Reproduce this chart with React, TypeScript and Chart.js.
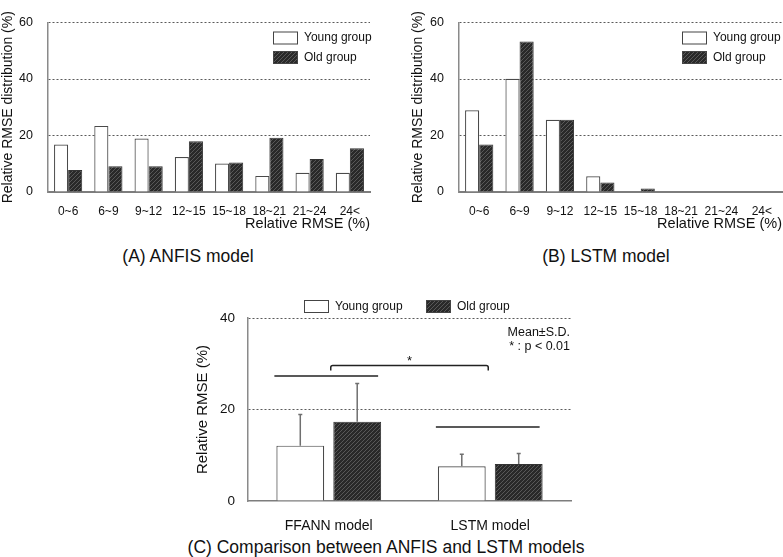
import { useEffect, useRef } from "react"
import { Chart, registerables } from "chart.js"
import type { ChartConfiguration, Plugin } from "chart.js"

Chart.register(...registerables)

// ---- data ----
const bins = ["0~6", "6~9", "9~12", "12~15", "15~18", "18~21", "21~24", "24<"]
const anfisYoung = [16.8, 23.4, 18.9, 12.4, 10.1, 5.7, 6.8, 6.8]
const anfisOld = [7.8, 9.1, 9.1, 18.0, 10.4, 19.2, 11.7, 15.5]
const lstmYoung = [28.9, 40.1, 25.6, 5.6, 0, 0, 0, 0]
const lstmOld = [16.8, 53.3, 25.6, 3.4, 1.2, 0, 0, 0]
const distTicks = [0, 20, 40, 60]

const models = ["FFANN model", "LSTM model"]
const meanYoung = [12.1, 7.6]
const meanOld = [17.3, 8.1]
const sdYoung = [6.8, 2.6]
const sdOld = [8.4, 2.3]
const rmseTicks = [0, 20, 40]
const pairLineLevels = [27.3, 16.2]
const bracketLevel = 29.6
const bracketFoot = 28.5
const starLevel = 31.1

const groupLabels = ["Young group", "Old group"]
const notes = ["Mean\u00b1S.D.", "* : p < 0.01"]

const FONT = "'Liberation Sans', Arial, sans-serif"
const INK = "#111"
Chart.defaults.font.family = FONT
Chart.defaults.color = INK

function makeHatch(): CanvasPattern | string {
  const c = document.createElement("canvas")
  c.width = 4
  c.height = 4
  const g = c.getContext("2d")
  if (!g) return "#333"
  g.fillStyle = "#292929"
  g.fillRect(0, 0, 4, 4)
  g.strokeStyle = "#585858"
  g.lineWidth = 1
  g.beginPath()
  g.moveTo(0, 4)
  g.lineTo(4, 0)
  g.moveTo(-1, 1)
  g.lineTo(1, -1)
  g.moveTo(3, 5)
  g.lineTo(5, 3)
  g.stroke()
  return g.createPattern(c, "repeat") ?? "#333"
}

// legend drawn with boxes, placed relative to the chart area
const boxLegend: Plugin = {
  id: "boxLegend",
  afterDraw(chart, _args, opts: any) {
    const { ctx, chartArea } = chart
    const baseX = opts.anchor === "right" ? chartArea.right + opts.x : chartArea.left + opts.x
    ctx.save()
    ctx.font = `12px ${FONT}`
    ctx.textBaseline = "middle"
    ctx.textAlign = "left"
    chart.data.datasets.forEach((ds: any, i) => {
      const bx = baseX + i * opts.dx
      const by = chartArea.top + opts.y + i * opts.dy
      ctx.fillStyle = ds.backgroundColor
      ctx.fillRect(bx, by, 25, 13)
      ctx.strokeStyle = "#444"
      ctx.lineWidth = 1
      ctx.strokeRect(bx + 0.5, by + 0.5, 24, 12)
      ctx.fillStyle = INK
      ctx.fillText(ds.label, bx + 31, by + 6.5)
    })
    ctx.restore()
  },
}

// upward error bars from dataset.errors
const errorBars: Plugin = {
  id: "errorBars",
  afterDatasetsDraw(chart) {
    const { ctx } = chart
    const y = chart.scales.y
    ctx.save()
    ctx.strokeStyle = "#6f6f6f"
    ctx.lineWidth = 1.5
    chart.data.datasets.forEach((ds: any, i) => {
      chart.getDatasetMeta(i).data.forEach((el: any, j) => {
        const top = y.getPixelForValue(ds.data[j] + ds.errors[j])
        ctx.beginPath()
        ctx.moveTo(el.x, el.y)
        ctx.lineTo(el.x, top)
        ctx.moveTo(el.x - 2, top)
        ctx.lineTo(el.x + 2, top)
        ctx.stroke()
      })
    })
    ctx.restore()
  },
}

// pair lines, significance bracket and notes
const significance: Plugin = {
  id: "significance",
  afterDraw(chart) {
    const { ctx, chartArea } = chart
    const x = chart.scales.x
    const y = chart.scales.y
    const young = chart.getDatasetMeta(0).data as any[]
    const old = chart.getDatasetMeta(1).data as any[]
    ctx.save()
    ctx.strokeStyle = "#222"
    ctx.lineWidth = 1.5
    pairLineLevels.forEach((lv, j) => {
      const py = y.getPixelForValue(lv)
      ctx.beginPath()
      ctx.moveTo(young[j].x - young[j].width / 2 - 2, py)
      ctx.lineTo(old[j].x + old[j].width / 2 - 3, py)
      ctx.stroke()
    })
    const x1 = x.getPixelForValue(0) + 2
    const x2 = x.getPixelForValue(1) - 2
    const by = y.getPixelForValue(bracketLevel)
    const fy = y.getPixelForValue(bracketFoot)
    ctx.beginPath()
    ctx.moveTo(x1, fy)
    ctx.lineTo(x1, by + 2)
    ctx.quadraticCurveTo(x1, by, x1 + 2, by)
    ctx.lineTo(x2 - 2, by)
    ctx.quadraticCurveTo(x2, by, x2, by + 2)
    ctx.lineTo(x2, fy)
    ctx.stroke()
    ctx.fillStyle = INK
    ctx.textAlign = "center"
    ctx.textBaseline = "middle"
    ctx.font = `13px ${FONT}`
    ctx.fillText("*", (x1 + x2) / 2, y.getPixelForValue(starLevel) + 3)
    ctx.textAlign = "right"
    ctx.font = `12.5px ${FONT}`
    notes.forEach((t, k) => ctx.fillText(t, chartArea.right - 1, chartArea.top + 15 + k * 14))
    ctx.restore()
  },
}

const gridColor = (c: any) => (c.tick && c.tick.value === 0 ? "transparent" : "#5a5a5a")

function histogramConfig(
  young: number[],
  old: number[],
  padLeft: number,
  padRight: number,
  yWidth: number,
  legendX: number
): ChartConfiguration {
  const hatch = makeHatch()
  return {
    type: "bar",
    data: {
      labels: bins,
      datasets: [
        { label: groupLabels[0], data: young, backgroundColor: "#ffffff", borderColor: "#4a4a4a", borderWidth: 1.2 },
        { label: groupLabels[1], data: old, backgroundColor: hatch as any, borderColor: "#333", borderWidth: 1 },
      ],
    },
    options: {
      responsive: true,
      maintainAspectRatio: false,
      animation: false,
      layout: { padding: { left: padLeft, right: padRight, top: 9, bottom: 0 } },
      datasets: { bar: { categoryPercentage: 0.7, barPercentage: 1 } },
      plugins: {
        legend: { display: false },
        tooltip: { enabled: false },
        boxLegend: { anchor: "right", x: legendX, y: 9, dx: 0, dy: 19.5 },
      } as any,
      scales: {
        x: {
          grid: { display: false },
          border: { color: "#7d7d7d", width: 2 },
          ticks: { font: { size: 12 }, padding: 4, color: INK },
          title: { display: true, text: "Relative RMSE (%)", align: "end", font: { size: 14.5 }, padding: { top: 0, bottom: 7 } },
          afterFit: (s) => {
            s.height = 48
          },
        },
        y: {
          min: 0,
          max: 60,
          afterBuildTicks: (s) => {
            s.ticks = distTicks.map((v) => ({ value: v }))
          },
          grid: { color: gridColor, lineWidth: 1, drawTicks: false },
          border: { color: "#8a8a8a", width: 1.5, dash: [2, 2] },
          ticks: { font: { size: 12.5 }, padding: 15, color: INK },
          title: { display: true, text: "Relative RMSE distribution (%)", font: { size: 14 }, padding: { top: 0, bottom: 0 } },
          afterFit: (s) => {
            s.width = yWidth
          },
        },
      },
    },
    plugins: [boxLegend],
  }
}

const buildAnfis = () => histogramConfig(anfisYoung, anfisOld, 0, 20, 48, -97)
const buildLstm = () => histogramConfig(lstmYoung, lstmOld, 20, 1, 49, -100)

const buildCompare = (): ChartConfiguration => {
  const hatch = makeHatch()
  return {
    type: "bar",
    data: {
      labels: models,
      datasets: [
        { label: groupLabels[0], data: meanYoung, errors: sdYoung, backgroundColor: "#ffffff", borderColor: "#4a4a4a", borderWidth: 1.2 } as any,
        { label: groupLabels[1], data: meanOld, errors: sdOld, backgroundColor: hatch, borderColor: "#333", borderWidth: 1 } as any,
      ],
    },
    options: {
      responsive: true,
      maintainAspectRatio: false,
      animation: false,
      layout: { padding: { left: 0, right: 19, top: 28, bottom: 0 } },
      datasets: { bar: { categoryPercentage: 0.705, barPercentage: 0.84 } },
      plugins: {
        legend: { display: false },
        tooltip: { enabled: false },
        boxLegend: { anchor: "left", x: 56, y: -18, dx: 122, dy: 0 },
      } as any,
      scales: {
        x: {
          grid: { display: false },
          border: { color: "#7d7d7d", width: 1.5 },
          ticks: { font: { size: 14 }, padding: 9, color: INK },
          afterFit: (s) => {
            s.height = 29
          },
        },
        y: {
          min: 0,
          max: 40,
          afterBuildTicks: (s) => {
            s.ticks = rmseTicks.map((v) => ({ value: v }))
          },
          grid: { color: gridColor, lineWidth: 1, drawTicks: false },
          border: { color: "#8a8a8a", width: 1.5, dash: [2, 2] },
          ticks: { font: { size: 13.5 }, padding: 13, color: INK },
          title: { display: true, text: "Relative RMSE (%)", font: { size: 15 }, padding: { top: 4, bottom: 0 } },
          afterFit: (s) => {
            s.width = 58
          },
        },
      },
    },
    plugins: [boxLegend, errorBars, significance],
  }
}

function ChartBox({ left, top, width, height, build }: { left: number; top: number; width: number; height: number; build: () => ChartConfiguration }) {
  const ref = useRef<HTMLCanvasElement>(null)
  useEffect(() => {
    if (!ref.current) return
    const chart = new Chart(ref.current, build())
    return () => chart.destroy()
  }, [build])
  return (
    <div style={{ position: "absolute", left, top, width, height }}>
      <canvas ref={ref} />
    </div>
  )
}

function Caption({ cx, cy, text }: { cx: number; cy: number; text: string }) {
  return (
    <div
      style={{
        position: "absolute",
        left: cx - 250,
        top: cy - 10,
        width: 500,
        lineHeight: "20px",
        textAlign: "center",
        fontFamily: FONT,
        fontSize: 17.5,
        color: INK,
        whiteSpace: "nowrap",
      }}
    >
      {text}
    </div>
  )
}

export default function App() {
  return (
    <div style={{ position: "absolute", left: 0, top: 0, width: 783, height: 557, background: "#fff", overflow: "hidden" }}>
      <ChartBox left={0} top={0} width={390} height={240} build={buildAnfis} />
      <ChartBox left={390} top={0} width={393} height={240} build={buildLstm} />
      <ChartBox left={190} top={290} width={400} height={240} build={buildCompare} />
      <Caption cx={188} cy={256} text="(A) ANFIS model" />
      <Caption cx={606} cy={256} text="(B) LSTM model" />
      <Caption cx={386} cy={547} text="(C) Comparison between ANFIS and LSTM models" />
    </div>
  )
}
